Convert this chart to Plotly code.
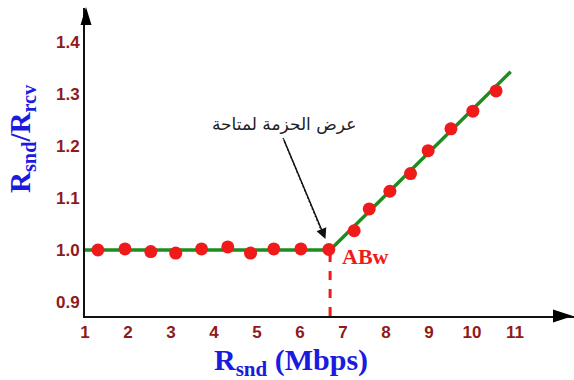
import plotly.graph_objects as go

# Measured send rate (Mbps) and send/receive ratio
rate_flat = [1.30, 1.93, 2.53, 3.11, 3.71, 4.32, 4.85, 5.39, 6.02, 6.67]
ratio_flat = [1.000, 1.002, 0.997, 0.994, 1.002, 1.006, 0.994, 1.002, 1.002, 1.001]
rate_rise = [7.26, 7.61, 8.09, 8.57, 8.98, 9.51, 10.02, 10.56]
ratio_rise = [1.037, 1.079, 1.113, 1.147, 1.191, 1.233, 1.267, 1.306]

# Piecewise trend: flat up to the available bandwidth, then rising
trend_x = [1.0, 6.70, 10.90]
trend_y = [1.0, 1.0, 1.343]
abw_rate = 6.70

x_ticks = list(range(1, 12))
y_ticks = [0.9, 1.0, 1.1, 1.2, 1.3, 1.4]

W, H = 574, 380
ML, MR, MT, MB = 85, 0, 8, 64
PW, PH = W - ML - MR, H - MT - MB
X_RANGE = [1.0, 1.0 + PW / 43.0]
Y_RANGE = [1.0 - 66.0 / 520.0, 1.0 + 242.0 / 520.0]


def px(xp):
    return (xp - ML) / PW


def py(yp):
    return (H - MB - yp) / PH


def dx_from_px(dp):
    return dp * (X_RANGE[1] - X_RANGE[0]) / PW


def dy_from_px(dp):
    return -dp * (Y_RANGE[1] - Y_RANGE[0]) / PH


RED = "#F01A1A"
GREEN = "#1E8C1E"
TICK = "#8E1B1B"
BLUE = "#1A1AE0"

fig = go.Figure()

fig.add_trace(go.Scatter(
    x=trend_x, y=trend_y, mode="lines",
    line=dict(color=GREEN, width=3.5), hoverinfo="skip", showlegend=False,
))
fig.add_trace(go.Scatter(
    x=rate_flat + rate_rise, y=ratio_flat + ratio_rise, mode="markers",
    marker=dict(color=RED, size=13), showlegend=False,
))

shapes = [
    # dashed drop line at the available bandwidth
    dict(type="line", xref="x", yref="y", x0=abw_rate, x1=abw_rate,
         y0=Y_RANGE[0], y1=1.0, line=dict(color=RED, width=3, dash="dash"),
         layer="below"),
    # dotted pointer from the label towards the knee
    dict(type="line", xref="x", yref="y",
         x0=abw_rate + dx_from_px(-47), y0=1.0 + dy_from_px(-112),
         x1=abw_rate + dx_from_px(-9), y1=1.0 + dy_from_px(-20),
         line=dict(color="#222222", width=1.4, dash="1.5px,2.5px")),
    # axis arrow heads
    dict(type="path", xref="paper", yref="paper", fillcolor="black",
         line=dict(width=0),
         path=f"M {px(86)},{py(7)} L {px(80.5)},{py(25)} L {px(91.5)},{py(25)} Z"),
    dict(type="path", xref="paper", yref="paper", fillcolor="black",
         line=dict(width=0),
         path=f"M {px(573)},{py(316)} L {px(553)},{py(309.5)} L {px(553)},{py(322.5)} Z"),
]

annotations = [
    # arrow head of the pointer
    dict(x=abw_rate, y=1.0, xref="x", yref="y", text="", showarrow=True,
         ax=-47, ay=-112, standoff=12, arrowhead=2, arrowsize=1.4,
         arrowwidth=1.5, arrowcolor="#111111"),
    dict(x=px(284), y=py(124), xref="paper", yref="paper",
         text="عرض الحزمة لمتاحة", showarrow=False,
         font=dict(family="DejaVu Sans", size=17, color="#222222"),
         xanchor="center", yanchor="middle"),
    dict(x=abw_rate, y=1.0, xref="x", yref="y", text="<b>ABw</b>",
         showarrow=False, xanchor="left", yanchor="middle",
         xshift=10, yshift=-6,
         font=dict(family="Liberation Serif", size=22, color=RED)),
    dict(x=px(291), y=py(362), xref="paper", yref="paper",
         text="<b>R<sub>snd</sub> (Mbps)</b>", showarrow=False,
         xanchor="center", yanchor="middle",
         font=dict(family="Liberation Serif", size=30, color=BLUE)),
    dict(x=px(22), y=py(139), xref="paper", yref="paper",
         text="<b>R<sub>snd</sub>/R<sub>rcv</sub></b>", showarrow=False,
         textangle=-90, xanchor="center", yanchor="middle",
         font=dict(family="Liberation Serif", size=29, color=BLUE)),
]

tickfont = dict(family="Liberation Sans", size=17, color=TICK, weight="bold")

fig.update_layout(
    width=W, height=H,
    margin=dict(l=ML, r=MR, t=MT, b=MB, pad=0),
    paper_bgcolor="white", plot_bgcolor="white",
    shapes=shapes, annotations=annotations,
    xaxis=dict(range=X_RANGE, tickvals=x_ticks, showgrid=False, zeroline=False,
               showline=True, linecolor="#111111", linewidth=2,
               ticks="", tickfont=tickfont),
    yaxis=dict(range=Y_RANGE, tickvals=y_ticks, tickformat=".1f",
               showgrid=False, zeroline=False, showline=True,
               linecolor="#111111", linewidth=2, ticks="", tickfont=tickfont),
)

fig.write_html("out.html")
